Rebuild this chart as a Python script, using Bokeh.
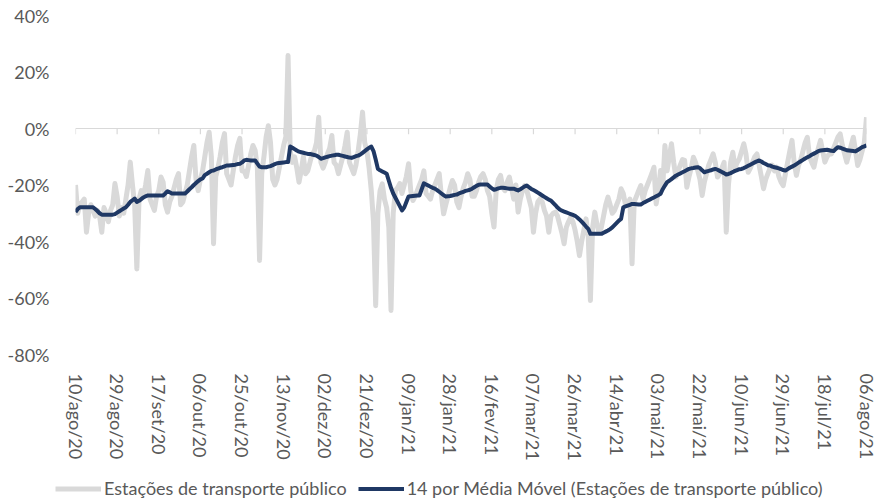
import pandas as pd
from bokeh.plotting import figure
from bokeh.layouts import column
from bokeh.models import Range1d, FixedTicker, Legend, LegendItem, Span
from bokeh.embed import file_html
from bokeh.resources import INLINE

# ---------------- data ----------------
start_date = "2020-08-10"
series_daily_name = "Estações de transporte público"
series_ma_name = "14 por Média Móvel (Estações de transporte público)"

tick_labels = ["10/ago/20", "29/ago/20", "17/set/20", "06/out/20", "25/out/20",
               "13/nov/20", "02/dez/20", "21/dez/20", "09/jan/21", "28/jan/21",
               "16/fev/21", "07/mar/21", "26/mar/21", "14/abr/21", "03/mai/21",
               "22/mai/21", "10/jun/21", "29/jun/21", "18/jul/21", "06/ago/21"]
y_ticks = [-80, -60, -40, -20, 0, 20, 40]
y_tick_labels = ["-80%", "-60%", "-40%", "-20%", "0%", "20%", "40%"]

# daily values (% change), one row per week starting Monday 10/ago/20
daily = [
    -20, -30, -27, -26, -25, -36.7, -30,
    -27, -29, -31, -29, -31, -36.7, -28,
    -30, -33, -29, -27, -19.5, -24, -31,
    -28, -30, -25, -20, -11.9, -20, -27,
    -49.7, -25, -22, -24, -20, -14.9, -25,
    -27, -29, -24, -22, -17.2, -19, -27,
    -29.6, -26, -24, -21, -18, -16, -27,
    -26, -23, -20, -15, -10, -6, -18,
    -22, -18, -15, -10, -5, -1.3, -10,
    -40.8, -17, -14, -10, -5, -1.8, -16,
    -18, -20, -15, -10, -6, -3.5, -15,
    -15, -17, -13, -9, -6, -7.8, -14,
    -46.7, -16, -10, -3, 1, -5, -18,
    -20, -18, -14, -10, -6, -3, 25.8,
    -8, -12, -10, -14, -19, -15, -10,
    -16, -15, -12, -9, -8, -5, 4,
    -12, -14, -12, -9, -7, -2.5, -12,
    -13, -16, -13, -10, -6, -1.3, -12,
    -14, -16, -13, -8, -2, 5.8, -5,
    -8, -14, -22, -33, -62.7, -30, -22,
    -19.6, -25, -28, -35, -64.4, -30, -22,
    -21, -19.5, -23, -20, -17, -12.5, -22,
    -25.5, -24, -22, -20, -18, -15, -23,
    -24, -25, -22, -20, -18, -16, -24,
    -30.2, -27, -24, -21, -18.4, -20, -26,
    -28, -24, -21, -19, -16, -18, -24,
    -24, -22, -19, -17, -16, -18, -22,
    -24, -30, -34.9, -22, -18, -16.6, -21,
    -22, -19, -17.2, -21, -25, -20, -29.6,
    -25, -22, -20.2, -22, -25, -28, -36.7,
    -30, -26, -24.9, -26, -29, -31, -36.7,
    -31, -30, -29.6, -31, -34, -37, -40.8,
    -35, -33, -31.4, -33, -36, -40, -45,
    -40, -36, -32, -38, -60.9, -35, -29.6,
    -34, -37, -35, -31, -27, -24.3, -27,
    -30, -29, -27, -25, -21.3, -23, -27,
    -27, -25, -47.9, -26, -24, -22, -20.2,
    -25, -22, -20, -18, -16, -13.7, -26.7,
    -22, -14.9, -20.8, -6, -15, -10, -5.4,
    -12, -17.2, -15, -13, -11, -11.3, -20.8,
    -17, -14, -10.2, -12, -15, -18, -23.7,
    -19, -16, -13, -11, -9, -12, -17.2,
    -16, -14, -12, -36.7, -20, -12, -8.4,
    -14, -12, -10.7, -8, -5.4, -9, -15.5,
    -14, -12, -10, -9, -13, -17, -21.3,
    -18, -16, -14, -13, -15, -13.7, -17,
    -19, -20.2, -16, -12, -8, -4.2, -12,
    -16.6, -13, -11, -8, -5, -3.1, -10,
    -12, -13.7, -10, -7, -4.2, -8, -11.9,
    -10, -9, -9, -7, -5, -3, -1.9,
    -6, -9, -11.9, -9, -6, -3.1, -8,
    -13.1, -11, -8, -5, 4,
]

# 14-day moving average, ten days per row
moving_avg = [
    -29.6, -28.5, -27.9, -27.9, -27.9, -27.9, -27.9, -27.9, -27.9, -28.5,
    -29.2, -30, -30.5, -30.5, -30.5, -30.5, -30.5, -30.5, -30.3, -29.8,
    -29.3, -28.8, -28.3, -27.9, -27, -26, -25.4, -24.8, -26, -25.6,
    -25, -24.4, -24, -23.7, -23.7, -23.7, -23.7, -23.7, -23.7, -23.7,
    -23.7, -23, -22.2, -22.6, -23, -23, -23, -23, -23, -23,
    -23, -22.3, -21.5, -20.8, -20, -19.3, -18.6, -18, -17.7, -16.5,
    -16, -15.5, -15, -14.9, -14.5, -14.2, -13.9, -13.7, -13.4, -13.1,
    -13.1, -13, -12.9, -12.8, -12.6, -12.5, -12, -11.3, -11.1, -11.2,
    -11.3, -11.3, -11.3, -12.4, -13.5, -13.7, -13.7, -13.7, -13.5, -13.3,
    -13, -12.6, -12.3, -12.2, -12.1, -12, -11.9, -11.9, -6.4, -6.8,
    -7.3, -7.8, -8.2, -8.4, -8.6, -8.8, -9, -9, -9.2, -9.4,
    -9.6, -10.1, -10.7, -10.5, -10.2, -10, -9.8, -9.6, -9.5, -9.3,
    -9.3, -9.5, -9.7, -9.9, -10.1, -10.3, -10.4, -10.1, -9.8, -9.6,
    -9.2, -8.6, -8, -7.4, -6.8, -6.4, -8, -11, -14.3, -14.8,
    -15.2, -15.6, -16, -18.5, -21, -23, -24.5, -26, -27.5, -29,
    -28, -26, -24.1, -24, -23.9, -23.8, -23.7, -23.7, -21.5, -19.4,
    -19.8, -20.2, -20.6, -21, -21.3, -21.8, -22.4, -23, -23.6, -24.1,
    -24, -23.9, -23.7, -23.5, -23.4, -23, -22.7, -22.4, -22.1, -21.9,
    -21.7, -21.3, -20.8, -20.3, -19.9, -19.8, -19.8, -19.8, -19.8, -20.5,
    -21.2, -21.7, -21.5, -21.2, -21, -21, -21.1, -21.2, -21.3, -21.3,
    -21.3, -21.6, -21.9, -21.5, -21, -20.5, -20.2, -20.8, -21.4, -21.8,
    -22.2, -22.7, -23.2, -23.7, -24.2, -24.7, -25.2, -25.5, -26.3, -27.1,
    -28, -28.7, -29.1, -29.4, -29.7, -30, -30.3, -30.6, -30.9, -31.5,
    -32.2, -33, -33.8, -34.7, -35.5, -37.3, -37.3, -37.3, -37.3, -37.3,
    -37.3, -36.9, -36.5, -36.1, -35.6, -35, -34.2, -33.4, -32.6, -32,
    -27.9, -27.6, -27.3, -27, -26.7, -26.7, -26.8, -26.9, -26.9, -26.4,
    -26, -25.6, -25.2, -24.8, -24.4, -24, -23.6, -23.1, -21.5, -20.2,
    -19, -18.5, -17.9, -17.3, -16.7, -16.3, -15.9, -15.5, -15.1, -14.7,
    -14.3, -14.1, -14, -13.8, -13.7, -14, -14.8, -15.5, -15.2, -15,
    -14.8, -14.5, -14.3, -14.6, -15, -15.4, -15.8, -16.3, -16.1, -15.8,
    -15.4, -15, -14.7, -14.4, -14.3, -14, -13.6, -13.2, -12.8, -12.4,
    -12, -11.6, -11.3, -11.7, -12.2, -12.6, -13, -13.1, -13.5, -13.7,
    -13.9, -14.1, -14.4, -14.7, -14.9, -14.4, -13.9, -13.5, -13.1, -12.6,
    -12.1, -11.6, -11.1, -10.6, -10.2, -9.8, -9.3, -8.9, -8.5, -8,
    -7.8, -7.7, -7.6, -7.5, -7.7, -7.9, -8, -7.2, -6.6, -6.8,
    -7.1, -7.4, -7.7, -7.8, -7.9, -8, -8.1, -7.6, -7.1, -6.6,
    -6.3, -6,
]

# ---------------- chart ----------------
n = min(len(daily), len(moving_avg))
dates = pd.date_range(start_date, periods=n, freq="D")
tick_dates = dates[::19][:len(tick_labels)]
tick_ms = [int(d.timestamp() * 1000) for d in tick_dates]

GRAY = "#D9D9D9"
NAVY = "#1F3864"
TXT = "#595959"
FONT = "Lato"

p = figure(width=877, height=478, x_axis_type="datetime",
           output_backend="svg", toolbar_location=None,
           min_border_left=75, min_border_right=11,
           min_border_top=15, min_border_bottom=124)
p.x_range = Range1d(dates[0], dates[n - 1])
p.y_range = Range1d(y_ticks[0], y_ticks[-1])

p.add_layout(Span(location=0, dimension="width", line_color=GRAY, line_width=1.2))
p.segment(x0=list(tick_dates), y0=0, x1=list(tick_dates), y1=-2,
          line_color=GRAY, line_width=1.2)

r1 = p.line(dates, daily[:n], line_color=GRAY, line_width=5, line_join="round")
r2 = p.line(dates, moving_avg[:n], line_color=NAVY, line_width=4, line_join="round")

p.grid.visible = False
p.outline_line_color = None
p.background_fill_color = "white"
p.border_fill_color = "white"

p.xaxis.ticker = FixedTicker(ticks=tick_ms)
p.xaxis.major_label_overrides = {t: lab for t, lab in zip(tick_ms, tick_labels)}
p.xaxis.major_label_orientation = "vertical"
p.xaxis.major_label_standoff = 13

p.yaxis.ticker = FixedTicker(ticks=y_ticks)
p.yaxis.major_label_overrides = {t: lab for t, lab in zip(y_ticks, y_tick_labels)}
p.yaxis.major_label_standoff = 20

for ax in (p.xaxis, p.yaxis):
    ax.axis_line_color = None
    ax.major_tick_line_color = None
    ax.minor_tick_line_color = None
    ax.major_label_text_font = FONT
    ax.major_label_text_font_size = "18px"
    ax.major_label_text_color = TXT

# legend strip underneath the chart (its own full-width frame)
pl = figure(width=877, height=21, output_backend="svg", toolbar_location=None,
            x_axis_location=None, y_axis_location=None, min_border=0,
            x_range=Range1d(0, 1), y_range=Range1d(0, 1))
for fig in (p, pl):
    try:
        fig.frame_align = False
    except (AttributeError, ValueError):
        pass
pl.grid.visible = False
pl.outline_line_color = None
pl.background_fill_color = "white"
pl.border_fill_color = "white"
# legend samples: same series, outside this strip's ranges so only the key shows
l1 = pl.line(dates, daily[:n], line_color=GRAY, line_width=5)
l2 = pl.line(dates, moving_avg[:n], line_color=NAVY, line_width=4)

legend = Legend(items=[LegendItem(label=series_daily_name, renderers=[l1]),
                       LegendItem(label=series_ma_name, renderers=[l2])],
                location=(55, 0), orientation="horizontal",
                border_line_color=None, background_fill_alpha=0,
                padding=0, margin=0, spacing=11,
                glyph_width=46, glyph_height=21, label_height=21, label_standoff=3,
                label_text_font=FONT, label_text_font_size="18px",
                label_text_color=TXT)
pl.add_layout(legend)

layout = column(p, pl, spacing=0)
open("out.html", "w").write(file_html(layout, INLINE))
